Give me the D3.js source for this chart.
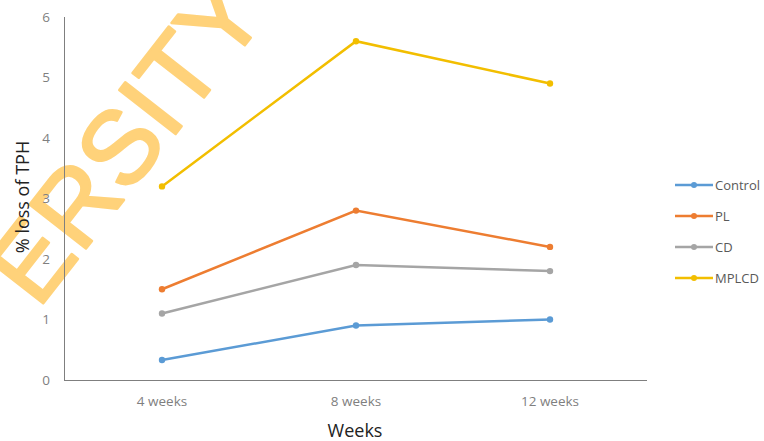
<!DOCTYPE html>
<html><head><meta charset="utf-8">
<script src="https://cdn.jsdelivr.net/npm/d3@7"></script>
<style>body{margin:0;background:#fff}svg{display:block}</style>
</head><body>
<script>
const categories = ["4 weeks", "8 weeks", "12 weeks"];
const seriesNames = ["Control", "PL", "CD", "MPLCD"];
const controlValues = [0.33, 0.9, 1.0];
const plValues = [1.5, 2.8, 2.2];
const cdValues = [1.1, 1.9, 1.8];
const mplcdValues = [3.2, 5.6, 4.9];
const yTicks = [0, 1, 2, 3, 4, 5, 6];
const colors = ["#5B9BD5", "#ED7D31", "#A5A5A5", "#F2BE00"];

const series = [controlValues, plValues, cdValues, mplcdValues].map((v, i) => ({name: seriesNames[i], values: v, color: colors[i]}));

const W = 764, H = 441;
const svg = d3.select("body").append("svg").attr("width", W).attr("height", H);

// watermark (beneath)
svg.append("text").attr("transform", "translate(38,310) rotate(-52)")
  .attr("font-family", "Liberation Sans, Arial, sans-serif").attr("font-size", 104)
  .attr("fill", "#FFD27A").attr("stroke", "#FFD27A").attr("stroke-width", 2.5)
  .attr("stroke-linejoin", "round").text("ERSITY");

const x = d3.scaleBand().domain(categories).range([65, 647]);
const y = d3.scaleLinear().domain([0, 6]).range([380, 17]);

// axes
svg.append("line").attr("x1", 64.5).attr("x2", 64.5).attr("y1", 17).attr("y2", 380).attr("stroke", "#7f7f7f").attr("stroke-width", 1);
svg.append("line").attr("x1", 64).attr("x2", 647).attr("y1", 380.5).attr("y2", 380.5).attr("stroke", "#7f7f7f").attr("stroke-width", 1);

svg.selectAll(".ytick").data(yTicks).enter().append("text")
  .attr("x", 50).attr("y", d => y(d)).attr("dy", "0.35em").attr("text-anchor", "end")
  .attr("font-family", "Open Sans, sans-serif").attr("font-size", 13.5).attr("fill", "#7f7f7f").text(d => d);

svg.selectAll(".xtick").data(categories).enter().append("text")
  .attr("x", d => x(d) + x.bandwidth() / 2).attr("y", 406).attr("text-anchor", "middle")
  .attr("font-family", "Open Sans, sans-serif").attr("font-size", 13.5).attr("fill", "#7f7f7f").text(d => d);

svg.append("text").attr("x", 355).attr("y", 437).attr("text-anchor", "middle")
  .attr("font-family", "Open Sans, sans-serif").attr("font-size", 18).attr("fill", "#222").text("Weeks");

svg.append("text").attr("transform", "translate(29,197) rotate(-90)").attr("text-anchor", "middle")
  .attr("font-family", "Open Sans, sans-serif").attr("font-size", 18).attr("fill", "#222").text("% loss of TPH");

const line = d3.line().x((d, i) => x(categories[i]) + x.bandwidth() / 2).y(d => y(d));

series.forEach(s => {
  svg.append("path").datum(s.values).attr("d", line).attr("fill", "none")
    .attr("stroke", s.color).attr("stroke-width", 2.5);
  svg.selectAll(null).data(s.values).enter().append("circle")
    .attr("cx", (d, i) => x(categories[i]) + x.bandwidth() / 2).attr("cy", d => y(d))
    .attr("r", 3.2).attr("fill", s.color);
});

// legend
const legY = d3.scalePoint().domain(seriesNames).range([185, 278]);
series.forEach(s => {
  const ly = legY(s.name);
  svg.append("line").attr("x1", 675).attr("x2", 713).attr("y1", ly).attr("y2", ly).attr("stroke", s.color).attr("stroke-width", 2.5);
  svg.append("circle").attr("cx", 694).attr("cy", ly).attr("r", 3).attr("fill", s.color);
  svg.append("text").attr("x", 715).attr("y", ly).attr("dy", "0.35em")
    .attr("font-family", "Open Sans, sans-serif").attr("font-size", 13).attr("fill", "#595959").text(s.name);
});
</script>
</body></html>
